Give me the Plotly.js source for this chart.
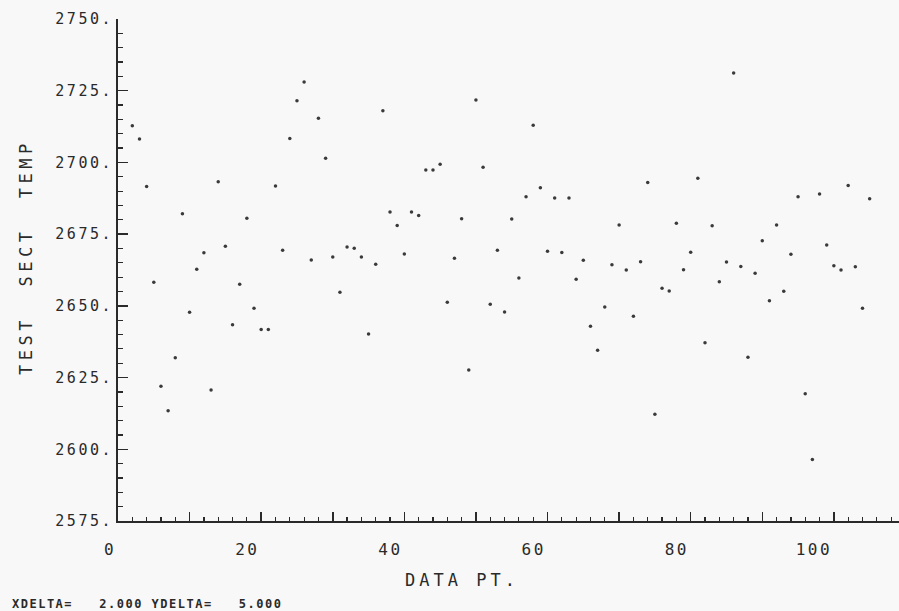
<!DOCTYPE html>
<html>
<head>
<meta charset="utf-8">
<script src="https://cdn.plot.ly/plotly-3.0.1.min.js"></script>
<style>
html, body { margin: 0; padding: 0; background: #f8f8f8; }
.xtick text, .ytick text { letter-spacing: 2.5px; }
</style>
</head>
<body>
<div id="chart" style="width:899px;height:611px;"></div>
<script>
// Data point index (x) and test section temperature (y)
const dataPt = [2,3,4,5,6,7,8,9,10,11,12,13,14,15,16,17,18,19,20,21,22,23,24,25,26,27,28,29,30,
  31,32,33,34,35,36,37,38,39,40,41,42,43,44,45,46,47,48,49,50,51,52,53,54,55,56,57,58,59,60,
  61,62,63,64,65,66,67,68,69,70,71,72,73,74,75,76,77,78,79,80,81,82,83,84,85,86,87,88,89,90,
  91,92,93,94,95,96,97,98,99,100,101,102,103,104,105];
const testSectTemp = [2712.8,2708.2,2691.6,2658.2,2622.0,2613.4,2631.9,2682.1,2647.8,2662.8,
  2668.5,2620.7,2693.3,2670.8,2643.4,2657.5,2680.5,2649.2,2641.8,2641.8,
  2691.8,2669.4,2708.3,2721.5,2728.0,2666.0,2715.4,2701.5,2667.0,2654.7,
  2670.5,2670.1,2667.0,2640.2,2664.5,2718.0,2682.7,2678.0,2668.1,2682.7,
  2681.5,2697.4,2697.4,2699.4,2651.3,2666.6,2680.4,2627.6,2721.8,2698.3,
  2650.6,2669.4,2647.9,2680.3,2659.7,2688.0,2713.0,2691.2,2669.0,2687.6,
  2668.6,2687.6,2659.3,2665.9,2642.9,2634.5,2649.6,2664.3,2678.2,2662.5,
  2646.4,2665.4,2693.0,2612.2,2656.1,2655.2,2678.8,2662.6,2668.7,2694.5,
  2637.1,2677.9,2658.4,2665.3,2731.2,2663.7,2632.1,2661.4,2672.7,2651.8,
  2678.2,2655.1,2668.0,2688.0,2619.4,2596.4,2689.0,2671.2,2664.0,2662.5,
  2692.0,2663.6,2649.2,2687.3];

const xTickVals = [0,10,20,30,40,50,60,70,80,90,100];
const xTickText = ['0','','20','','40','','60','','80','','100'];
const yTickVals = [2575,2600,2625,2650,2675,2700,2725,2750];
const yTickText = ['2575.','2600.','2625.','2650.','2675.','2700.','2725.','2750.'];

const xTitle = 'DATA PT.';
const yTitle = 'TEST  SECT  TEMP';
const footNote = 'XDELTA=   2.000 YDELTA=   5.000';

const ink = '#2a2a2a';
const mono = 'DejaVu Sans Mono, Liberation Mono, monospace';

const trace = {
  x: dataPt, y: testSectTemp, type: 'scatter', mode: 'markers',
  marker: {size: 3.5, color: '#3a3a3a'}, hoverinfo: 'x+y'
};

const layout = {
  width: 899, height: 611,
  paper_bgcolor: '#f8f8f8', plot_bgcolor: '#f8f8f8',
  margin: {l: 118, r: 0, t: 19, b: 90},
  showlegend: false,
  font: {family: mono, color: ink},
  xaxis: {
    range: [0, 109.1], showgrid: false, zeroline: false,
    showline: true, linecolor: ink, linewidth: 2,
    ticks: 'inside', ticklen: 9, tickwidth: 1.5, tickcolor: ink,
    tickmode: 'array', tickvals: xTickVals, ticktext: xTickText,
    tickfont: {family: mono, size: 16, color: ink},
    ticklabelposition: 'outside left', ticklabelstandoff: 13,
    minor: {dtick: 2, ticks: 'inside', ticklen: 4, tickwidth: 1.2, tickcolor: ink, showgrid: false}
  },
  yaxis: {
    range: [2575, 2750], showgrid: false, zeroline: false,
    showline: true, linecolor: ink, linewidth: 2,
    ticks: 'inside', ticklen: 10, tickwidth: 1.5, tickcolor: ink,
    tickmode: 'array', tickvals: yTickVals, ticktext: yTickText,
    tickfont: {family: mono, size: 15, color: ink},
    ticklabelstandoff: 0,
    minor: {dtick: 5, ticks: 'inside', ticklen: 5, tickwidth: 1.2, tickcolor: ink, showgrid: false}
  },
  annotations: [
    {text: '<span style="letter-spacing:4px">' + xTitle + '</span>',
     xref: 'x', yref: 'paper', x: 48, y: -0.1175, xanchor: 'center', yanchor: 'middle',
     showarrow: false, font: {family: mono, size: 17, color: ink}},
    {text: '<span style="letter-spacing:4.5px">' + yTitle + '</span>',
     xref: 'paper', yref: 'paper', x: -0.1178, y: 0.526, xanchor: 'center', yanchor: 'middle',
     textangle: -90, showarrow: false, font: {family: mono, size: 17, color: ink}},
    {text: '<span style="letter-spacing:1.5px">' + footNote + '</span>',
     xref: 'paper', yref: 'paper', x: -0.1383, y: -0.165, xanchor: 'left', yanchor: 'middle',
     showarrow: false, font: {family: mono, size: 12, color: ink, weight: 'bold'}}
  ]
};

Plotly.newPlot('chart', [trace], layout, {displayModeBar: false, staticPlot: true});
</script>
</body>
</html>
